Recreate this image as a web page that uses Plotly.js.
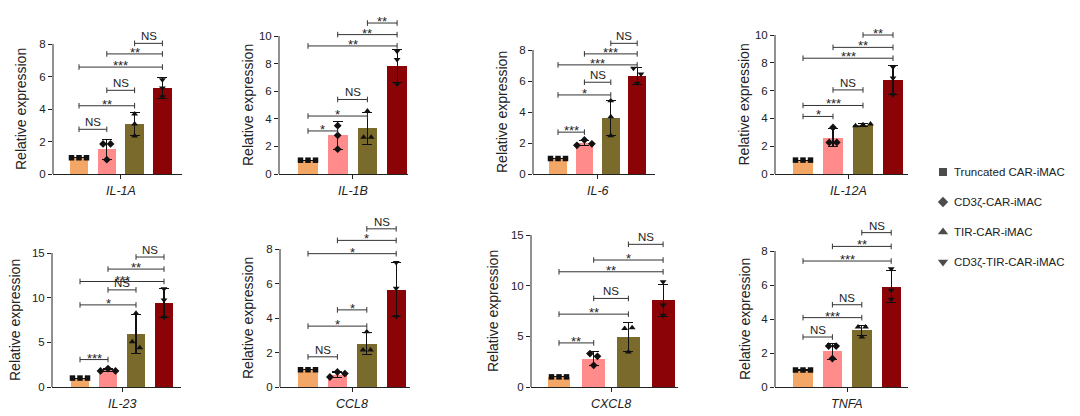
<!DOCTYPE html>
<html><head><meta charset="utf-8">
<script src="https://cdn.plot.ly/plotly-3.0.1.min.js"></script>
<style>html,body{margin:0;padding:0;background:#fff}#chart{width:1080px;height:416px}</style>
</head><body><div id="chart"></div>
<script>
// ---------- DATA ----------
const groups = ['Truncated CAR-iMAC', 'CD3ζ-CAR-iMAC', 'TIR-CAR-iMAC', 'CD3ζ-TIR-CAR-iMAC'];
const genes = ['IL-1A', 'IL-1B', 'IL-6', 'IL-12A', 'IL-23', 'CCL8', 'CXCL8', 'TNFA'];

const ticksIL1A = [0, 2, 4, 6, 8];
const ticksIL1B = [0, 2, 4, 6, 8, 10];
const ticksIL6 = [0, 2, 4, 6, 8];
const ticksIL12A = [0, 2, 4, 6, 8, 10];
const ticksIL23 = [0, 5, 10, 15];
const ticksCCL8 = [0, 2, 4, 6, 8];
const ticksCXCL8 = [0, 5, 10, 15];
const ticksTNFA = [0, 2, 4, 6, 8];

const meanIL1A = [1.0, 1.52, 3.07, 5.28];
const meanIL1B = [1.0, 2.8, 3.3, 7.85];
const meanIL6 = [1.0, 2.0, 3.63, 6.35];
const meanIL12A = [1.0, 2.6, 3.52, 6.77];
const meanIL23 = [1.0, 1.87, 5.92, 9.4];
const meanCCL8 = [1.0, 0.72, 2.52, 5.65];
const meanCXCL8 = [1.0, 2.8, 4.95, 8.55];
const meanTNFA = [1.0, 2.1, 3.33, 5.9];

const sdIL1A = [0, 0.6, 0.7, 0.66];
const sdIL1B = [0, 1.03, 1.15, 1.2];
const sdIL6 = [0, 0.18, 1.12, 0.55];
const sdIL12A = [0, 0.65, 0.1, 1.05];
const sdIL23 = [0, 0.14, 2.2, 1.65];
const sdCCL8 = [0, 0.15, 0.65, 1.57];
const sdCXCL8 = [0, 0.66, 1.42, 1.6];
const sdTNFA = [0, 0.48, 0.3, 0.95];

const ptsIL1A = [[1, 1, 1], [1.85, 0.88, 1.85], [3.69, 3.07, 2.34], [5.8, 5.3, 4.75]];
const ptsIL1B = [[1, 1, 1], [3.5, 2.8, 1.8], [4.57, 2.67, 2.67], [8.9, 8.3, 6.5]];
const ptsIL6 = [[1, 1, 1], [1.85, 2.2, 1.95], [4.72, 3.7, 2.47], [6.82, 6.45, 5.86]];
const ptsIL12A = [[1, 1, 1], [2.27, 3.35, 2.27], [3.47, 3.54, 3.59], [7.7, 6.9, 5.7]];
const ptsIL23 = [[1, 1, 1], [1.8, 2.06, 1.8], [8.25, 5.06, 4.39], [11.0, 9.75, 7.8]];
const ptsCCL8 = [[1, 1, 1], [0.58, 0.87, 0.78], [2.14, 3.2, 2.14], [7.22, 5.73, 4.08]];
const ptsCXCL8 = [[1, 1, 1], [3.3, 2.14, 3.03], [3.46, 5.77, 5.84], [10.39, 8.08, 7.09]];
const ptsTNFA = [[1, 1, 1], [2.41, 1.67, 2.41], [3.53, 2.94, 3.53], [6.96, 5.69, 5.16]];

// significance brackets: [groupA, groupB, height, label]
const sigIL1A = [[0, 1, 2.75, 'NS'], [0, 2, 4.2, '**'], [1, 2, 5.15, 'NS'], [0, 3, 6.58, '***'], [1, 3, 7.39, '**'], [2, 3, 8.04, 'NS']];
const sigIL1B = [[0, 1, 3.12, '*'], [0, 2, 4.2, '*'], [1, 2, 5.4, 'NS'], [0, 3, 9.28, '**'], [1, 3, 10.1, '**'], [2, 3, 10.94, '**']];
const sigIL6 = [[0, 1, 2.7, '***'], [0, 2, 5.1, '*'], [1, 2, 5.92, 'NS'], [0, 3, 7.04, '***'], [1, 3, 7.75, '***'], [2, 3, 8.43, 'NS']];
const sigIL12A = [[0, 1, 4.14, '*'], [0, 2, 4.93, '***'], [1, 2, 6.05, 'NS'], [0, 3, 8.33, '***'], [1, 3, 9.11, '**'], [2, 3, 10.0, '**']];
const sigIL23 = [[0, 1, 3.07, '***'], [0, 2, 9.19, '*'], [1, 2, 10.87, 'NS'], [0, 3, 11.81, '***'], [1, 3, 13.2, '**'], [2, 3, 14.55, 'NS']];
const sigCCL8 = [[0, 1, 1.75, 'NS'], [0, 2, 3.53, '*'], [1, 2, 4.47, '*'], [0, 3, 7.73, '*'], [1, 3, 8.5, '*'], [2, 3, 9.17, 'NS']];
const sigCXCL8 = [[0, 1, 4.35, '**'], [0, 2, 7.19, '**'], [1, 2, 8.74, 'NS'], [0, 3, 11.37, '**'], [1, 3, 12.53, '*'], [2, 3, 14.08, 'NS']];
const sigTNFA = [[0, 1, 2.94, 'NS'], [0, 2, 4.08, '***'], [1, 2, 4.84, 'NS'], [0, 3, 7.41, '***'], [1, 3, 8.27, '**'], [2, 3, 9.08, 'NS']];

// ---------- STYLE / LAYOUT GEOMETRY ----------
const barColors = ['#F3A767', '#FF8B8B', '#7A6B2D', '#8B0306'];
const symbols = ['square', 'diamond', 'triangle-up', 'triangle-down'];
const symSize = [5.5, 6, 6, 6];
const FONT = 'Liberation Sans, Arial, sans-serif';
const W = 1080, H = 416;

const geneTicks = [ticksIL1A, ticksIL1B, ticksIL6, ticksIL12A, ticksIL23, ticksCCL8, ticksCXCL8, ticksTNFA];
const geneMeans = [meanIL1A, meanIL1B, meanIL6, meanIL12A, meanIL23, meanCCL8, meanCXCL8, meanTNFA];
const geneSd = [sdIL1A, sdIL1B, sdIL6, sdIL12A, sdIL23, sdCCL8, sdCXCL8, sdTNFA];
const genePts = [ptsIL1A, ptsIL1B, ptsIL6, ptsIL12A, ptsIL23, ptsCCL8, ptsCXCL8, ptsTNFA];
const geneSig = [sigIL1A, sigIL1B, sigIL6, sigIL12A, sigIL23, sigCCL8, sigCXCL8, sigTNFA];

// pixel geometry of each panel
const geom = [
  {xl: 53, xr: 182, c0: 79, s: 27.8, y0: 174, yt: 44, top: 2, tx: -32},
  {xl: 279, xr: 408, c0: 308, s: 29.7, y0: 174, yt: 36, top: 2, tx: -31},
  {xl: 533, xr: 655, c0: 558, s: 26.4, y0: 174, yt: 50, top: 2, tx: -31},
  {xl: 775, xr: 908, c0: 803, s: 30, y0: 174, yt: 35, top: 2, tx: -32},
  {xl: 52, xr: 181, c0: 80, s: 28, y0: 387, yt: 253, top: 210, tx: -37},
  {xl: 280, xr: 410, c0: 308, s: 29.4, y0: 387, yt: 249, top: 210, tx: -32},
  {xl: 531, xr: 678, c0: 559, s: 34.7, y0: 387, yt: 235, top: 210, tx: -38},
  {xl: 775, xr: 908, c0: 803, s: 29.4, y0: 387, yt: 251, top: 210, tx: -30}
];

const traces = [];
const shapes = [];
const annotations = [];
const layout = {
  width: W, height: H, margin: {l: 0, r: 0, t: 0, b: 0},
  paper_bgcolor: '#fff', plot_bgcolor: 'rgba(0,0,0,0)',
  showlegend: false, font: {family: FONT, color: '#222'},
  bargap: 0
};

genes.forEach((gene, k) => {
  const g = geom[k];
  const n = k + 1;
  const xa = 'x' + n, ya = 'y' + n;
  const ticks = geneTicks[k];
  const tmax = ticks[ticks.length - 1];
  const ppu = (g.y0 - g.yt) / tmax;
  const upx = 1 / ppu;
  const xlo = -(g.c0 - g.xl) / g.s;
  const xhi = 3 + (g.xr - (g.c0 + 3 * g.s)) / g.s;
  const ytop = (g.y0 - g.top) / ppu;

  layout['xaxis' + n] = {
    domain: [g.xl / W, g.xr / W], range: [xlo, xhi], anchor: ya,
    showline: true, linecolor: '#222', linewidth: 1,
    showgrid: false, zeroline: false, ticks: 'outside', ticklen: 4, tickcolor: '#222',
    tickvals: [1.5], showticklabels: false, fixedrange: true
  };
  layout['yaxis' + n] = {
    domain: [(H - g.y0) / H, (H - g.top) / H], range: [0, ytop], anchor: xa,
    showline: false, showgrid: false, zeroline: false,
    ticks: 'outside', ticklen: 4, tickcolor: '#222', tickwidth: 1,
    tickvals: ticks, ticktext: ticks.map(String),
    tickfont: {family: FONT, size: 11.5, color: '#222'}, fixedrange: true
  };
  shapes.push({type: 'line', xref: xa + ' domain', yref: ya, x0: 0, x1: 0, y0: 0, y1: tmax,
    line: {color: '#222', width: 1}});

  traces.push({
    type: 'bar', x: [0, 1, 2, 3], y: geneMeans[k], xaxis: xa, yaxis: ya, width: 0.66,
    marker: {color: barColors, line: {width: 0}},
    error_y: {type: 'data', array: geneSd[k], visible: true, color: '#111', thickness: 1.1, width: 5},
    hoverinfo: 'skip'
  });

  const thr = 6.5 * upx;
  genePts[k].forEach((vals, gi) => {
    const idx = vals.map((v, i) => i).sort((a, b) => vals[b] - vals[a]);
    const clusters = [];
    idx.forEach(i => {
      const last = clusters[clusters.length - 1];
      if (last && Math.abs(vals[last[last.length - 1]] - vals[i]) < thr) last.push(i);
      else clusters.push([i]);
    });
    const xs = new Array(vals.length).fill(gi);
    const step = 7.5 / g.s;
    clusters.forEach(c => {
      const order = c.slice().sort((a, b) => a - b);
      order.forEach((i, j) => { xs[i] = gi + (j - (order.length - 1) / 2) * step; });
    });
    traces.push({
      type: 'scatter', mode: 'markers', x: xs, y: vals, xaxis: xa, yaxis: ya,
      marker: {symbol: symbols[gi], size: symSize[gi], color: '#111', line: {width: 0}},
      hoverinfo: 'skip', cliponaxis: false
    });
  });

  geneSig[k].forEach(([a, b, h, lab]) => {
    const lc = {color: '#333', width: 1};
    shapes.push({type: 'line', xref: xa, yref: ya, x0: a, x1: b, y0: h, y1: h, line: lc});
    shapes.push({type: 'line', xref: xa, yref: ya, x0: a, x1: a, y0: h - 2.8 * upx, y1: h + 2.8 * upx, line: lc});
    shapes.push({type: 'line', xref: xa, yref: ya, x0: b, x1: b, y0: h - 2.8 * upx, y1: h + 2.8 * upx, line: lc});
    const isNS = lab === 'NS';
    annotations.push({
      xref: xa, yref: ya, x: (a + b) / 2, y: h, text: lab, showarrow: false,
      xanchor: 'center', yanchor: 'bottom', yshift: isNS ? 0 : -7, borderpad: 0,
      font: {family: FONT, size: isNS ? 11.5 : 13, color: '#222'}
    });
  });

  annotations.push({
    xref: xa + ' domain', yref: ya, x: 0, y: tmax / 2, xshift: g.tx, text: 'Relative expression',
    textangle: -90, showarrow: false, xanchor: 'center', yanchor: 'middle',
    font: {family: FONT, size: 14, color: '#222'}
  });
  annotations.push({
    xref: xa, yref: ya, x: 1.5, y: 0, yshift: -17, text: '<i>' + gene + '</i>', showarrow: false,
    xanchor: 'center', yanchor: 'middle', font: {family: FONT, size: 12.5, color: '#222'}
  });
});

// legend on its own hidden axis
layout.xaxis9 = {domain: [930 / W, 1], range: [-13, 137], visible: false, anchor: 'y9', fixedrange: true};
layout.yaxis9 = {domain: [(H - 277) / H, (H - 157) / H], range: [3.5, -0.5], visible: false, anchor: 'x9', fixedrange: true};
traces.push({
  type: 'scatter', mode: 'markers', x: groups.map(() => 0), y: groups.map((_, i) => i),
  xaxis: 'x9', yaxis: 'y9', hoverinfo: 'skip', cliponaxis: false,
  marker: {symbol: symbols, size: [8, 8, 9, 9], color: '#000', line: {width: 0}}
});
groups.forEach((name, i) => {
  annotations.push({
    xref: 'x9', yref: 'y9', x: 0, y: i, xshift: 9, text: name, showarrow: false,
    xanchor: 'left', yanchor: 'middle', font: {family: FONT, size: 11.5, color: '#222'}
  });
});

layout.shapes = shapes;
layout.annotations = annotations;
Plotly.newPlot('chart', traces, layout, {staticPlot: true, displayModeBar: false});
</script>
</body></html>
